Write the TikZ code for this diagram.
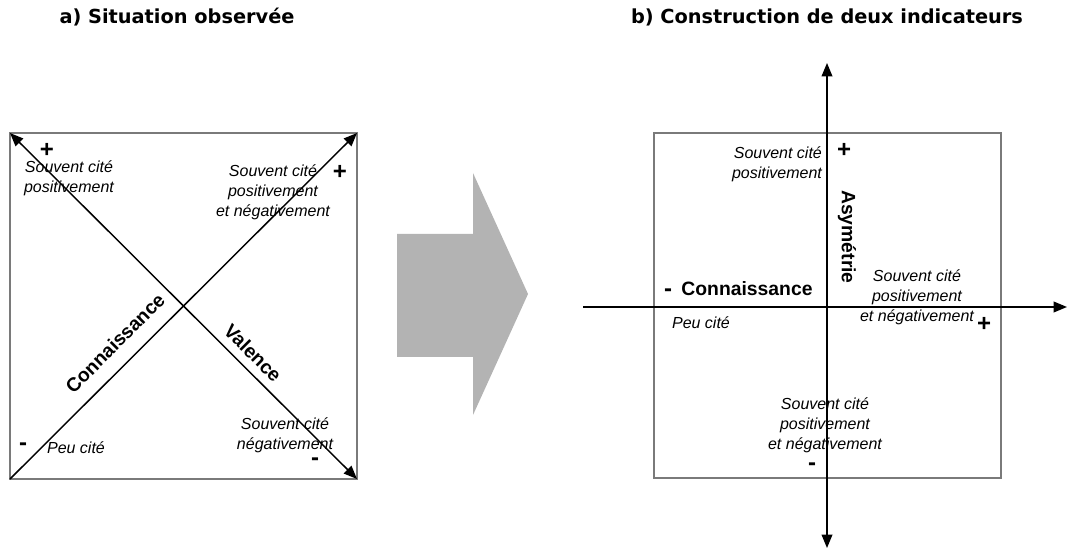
\documentclass[tikz,border=0pt]{standalone}
\usepackage{fontspec}
\setmainfont{Liberation Sans}
\newfontfamily\titlefont{DejaVu Sans}
\usetikzlibrary{arrows.meta}
\definecolor{frame}{HTML}{7A7A7A}
\definecolor{bigarrow}{HTML}{B3B3B3}

\begin{document}
\begin{tikzpicture}[x=.75pt,y=-.75pt,>={Triangle[length=10pt,width=8pt]},
  axis/.style={line width=1.1pt,black},
  cadre/.style={draw=frame,line width=1.1pt},
  lbl/.style={font=\itshape\fontsize{12}{15}\selectfont,align=center,inner sep=0pt},
  sgn/.style={font=\bfseries\fontsize{18}{18}\selectfont,inner sep=0pt},
  axlbl/.style={font=\bfseries\fontsize{14.5}{16}\selectfont,inner sep=0pt},
  titre/.style={font=\titlefont\bfseries\fontsize{14.5}{16}\selectfont,inner sep=0pt}]
  \useasboundingbox (0,0) rectangle (1068,552);

  % titres
  \node[titre] (titrea) at (177,17) {a) Situation observée};
  \node[titre] (titreb) at (827,17) {b) Construction de deux indicateurs};

  % a) situation observee
  \coordinate (a-nw) at (10,133);
  \coordinate (a-ne) at (357,133);
  \coordinate (a-sw) at (10,479);
  \coordinate (a-se) at (357,479);
  \draw[cadre] (a-nw) rectangle (a-se);
  \draw[axis,->] (a-sw) -- (a-ne);
  \draw[axis,<->] (a-nw) -- (a-se);
  \node[axlbl,rotate=45] (conna) at (115,343) {Connaissance};
  \node[axlbl,rotate=-45] (valence) at (253,353) {Valence};
  \node[sgn] (a-plus1) at (47,150) {+};
  \node[lbl] (a-pos) at (69,178) {Souvent cité\\positivement};
  \node[sgn] (a-plus2) at (340,172) {+};
  \node[lbl] (a-posneg) at (273,192) {Souvent cité\\positivement\\et négativement};
  \node[sgn] (a-moins1) at (23,447) {-};
  \node[lbl] (a-peu) at (76,448) {Peu cité};
  \node[lbl] (a-neg) at (285,435) {Souvent cité\\négativement};
  \node[sgn] (a-moins2) at (315,462) {-};

  % fleche de passage
  \fill[bigarrow] (397,234) -- (473,234) -- (473,173) -- (528,294)
    -- (473,415) -- (473,357) -- (397,357) -- cycle;

  % b) deux indicateurs
  \draw[cadre] (654,133) rectangle (1001,478);
  \coordinate (b-w) at (583,307);
  \coordinate (b-e) at (1067,307);
  \coordinate (b-n) at (827,63);
  \coordinate (b-s) at (827,548);
  \draw[axis,->] (b-w) -- (b-e);
  \draw[axis,<->] (b-n) -- (b-s);
  \node[lbl,align=right] (b-pos) at (777,164) {Souvent cité\\positivement};
  \node[sgn] (b-plus1) at (844,150) {+};
  \node[axlbl,rotate=-90] (asym) at (847,237) {Asymétrie};
  \node[sgn] (b-moins1) at (668,293) {-};
  \node[axlbl] (connb) at (747,289) {Connaissance};
  \node[lbl] (b-peu) at (701,323) {Peu cité};
  \node[lbl] (b-posneg1) at (917,297) {Souvent cité\\positivement\\et négativement};
  \node[sgn] (b-plus2) at (984,324) {+};
  \node[lbl] (b-posneg2) at (825,425) {Souvent cité\\positivement\\et négativement};
  \node[sgn] (b-moins2) at (812,467) {-};
\end{tikzpicture}
\end{document}
